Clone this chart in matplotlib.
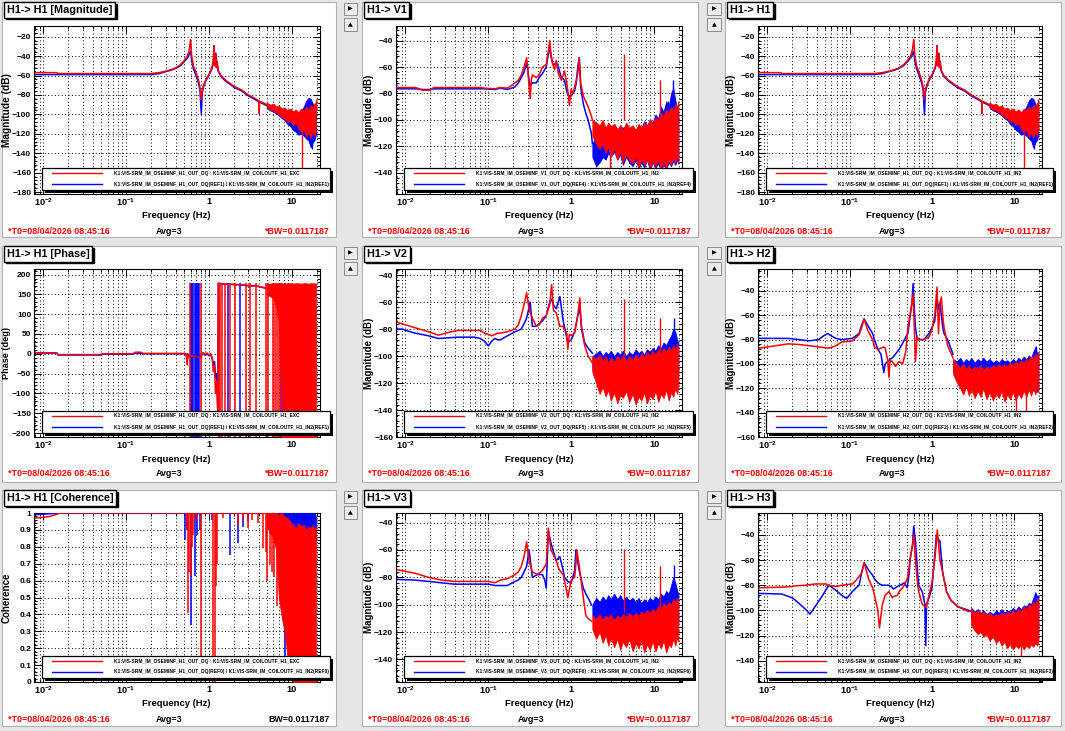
import numpy as np
import matplotlib.pyplot as plt
from matplotlib.patches import Rectangle
from matplotlib.ticker import (FixedLocator, LogLocator, MultipleLocator,
                               NullFormatter, FuncFormatter)

plt.rcParams['font.family'] = ['Liberation Sans', 'DejaVu Sans']
plt.rcParams['font.weight'] = 'bold'
plt.rcParams['mathtext.fontset'] = 'custom'
plt.rcParams['mathtext.rm'] = 'Liberation Sans:bold'
plt.rcParams['mathtext.bf'] = 'Liberation Sans:bold'
plt.rcParams['mathtext.it'] = 'Liberation Sans:bold'

nan = np.nan

# ---------------------------------------------------------------- data
XTICKS = [0.01, 0.1, 1, 10]
XTICK_LABELS = [r'$10^{-2}$', r'$10^{-1}$', '1', '10']

# frequency grid (Hz) of the dense, noisy high-frequency part
NOISE_F = [1.8, 2.0, 2.2, 2.4, 2.6, 2.8, 3.0, 3.3, 3.6, 3.9, 4.2, 4.6, 5.0, 5.5, 6.0, 6.5,
           7.0, 7.6, 8.2, 8.9, 9.6, 10.4, 11.2, 12.1, 13.0, 14.0, 15.0, 16.0, 17.0, 18.0, 19.0, 19.6]

# H1 -> H1 magnitude (dB)
H1_F = [0.008, 0.0145, 0.015, 0.05, 0.1, 0.2, 0.25, 0.3, 0.35, 0.4, 0.45, 0.5, 0.55, 0.58, 0.6, 0.62,
        0.65, 0.7, 0.75, 0.78, 0.81, 0.83, 0.86, 0.9, 0.95, 1.0, 1.05, 1.1, 1.13, 1.15, 1.17, 1.19,
        1.21, 1.23, 1.26, 1.3, 1.4, 1.6, 1.8, 2.0, 2.5, 3.0, 3.5, 4.0, 4.05, 4.1, 4.5, 5.0]
H1_RED = [-57, -57, -58, -58, -58, -58, -57, -55.5, -54, -52, -49, -45, -40, -33, -23, -40,
          -50, -57, -65, -72, -85, -75, -70, -66, -62, -59, -55, -50, -42, -29, -50, -40,
          -38, -52, -45, -55, -60, -65, -68, -71, -75, -80, -83, -86, -99, -86.5, -88, -90]
H1_BLUE = [-59, -59, -59, -59, -59, -59, -58, -56, -54.5, -52.5, -50, -46, -42, -38, -35, -45,
           -53, -60, -68, -75, -100, -78, -72, -67, -63, -60, -56, -52, -47, -42, -45, -38,
           -37, -45, -50, -56, -61, -66, -69, -72, -76, -81, -84, -87, -87.5, -87.5, -89, -91]
H1_RED_HI = [nan] * 12 + [-88, -90, -89, -92, -91, -94, -93, -96, -94, -97, -95, -98, -94, -96,
                          -92, -95, -90, -93, -88, -91]
H1_RED_LO = [nan] * 12 + [-92, -95, -96, -98, -100, -103, -104, -108, -106, -111, -109, -115,
                          -118, -116, -123, -119, -124, -118, -122, -114]
H1_BLUE_HI = [nan] * 12 + [-89, -91, -90, -93, -92, -95, -94, -97, -95, -98, -96, -99, -97, -92,
                           -86, -83, -84, -89, -94, -97]
H1_BLUE_LO = [nan] * 12 + [-93, -96, -97, -99, -101, -104, -106, -110, -112, -116, -118, -121,
                           -120, -122, -125, -127, -134, -129, -126, -121]
H1_RED_SPK = ([13.2, 19.5], [-110, -84], [-156, -95])
H1_BLUE_SPK = ([17.4], [-125], [-136])

# H1 -> H1 phase (deg)
PH_F = [0.008, 0.0145, 0.015, 0.05, 0.052, 0.12, 0.13, 0.15, 0.16, 0.5, 0.53, 0.545, 0.555, 0.57,
        0.59, 0.8, 0.85, 0.9, 0.95, 1.0, 1.05, 1.1, 1.13, 1.17, 1.2, 1.24, 1.28, 1.3, 1.5, 2.0,
        2.5, 3.0, 4.0, 5.0, 6.0, 7.2]
PH_RED = [2, 2, -2, -2, 0, 0, 4, 4, 1, 1, 0, -28, -3, -10, -5, -8, 3, -2, 2, -3, 0, -15, -45,
          -30, -100, -70, -150, 178, 176, 175, 174, 172, 170, 165, 160, 170]
PH_BLUE = [2, 2, -3, -3, -1, -1, 2, 1, 0, 0, 0, -15, 0, -5, -3, -5, 2, -4, 0, -5, -3, -10, -30,
           -20, -60, -50, -140, 178, 176, 175, 174, 172, 170, 165, 160, 170]
PH_RED_JUMPS = [0.59, 0.8, 1.33, 1.38, 1.45, 1.55, 1.8, 2.05, 2.8, 3.1, 3.75, 4.95, 5.2, 5.9,
                6.3, 6.7, 7.0]
PH_BLUE_JUMPS = [0.6, 0.615, 0.63, 0.65, 0.67, 0.69, 0.71, 0.73, 0.76, 1.7, 2.35, 7.5, 8.2]
PH_RED_HI = [nan] * 12 + [176, 177, 178, 176, 178, 178, 177, 178, 178, 177, 178, 178, 177, 178,
                          178, 177, 178, 178, 177, 178]
PH_RED_LO = [nan] * 12 + [150, 145, 140, 120, 80, -215, -215, -215, -215, -215, -215, -215, -215,
                          -215, -215, -215, -215, -215, -215, -215]

# H1 -> H1 coherence
COH_RED_F = [0.008, 0.01, 0.012, 0.014, 0.016, 5.0]
COH_RED = [0.97, 0.975, 0.98, 0.99, 1.0, 1.0]
COH_BLUE_F = [0.008, 0.016, 7.6]
COH_BLUE = [0.99, 1.0, 1.0]
COH_RED_DIP_F = [0.55, 0.56, 0.58, 0.6, 0.62, 0.64, 0.7, 0.8, 1.12, 1.17, 1.22, 1.25, 1.5, 2.25,
                 2.6, 2.98, 3.3, 3.9, 4.5, 4.9, 5.1, 5.4, 5.8, 6.2, 6.7]
COH_RED_DIP = [0.9, 0.41, 0.65, 0.63, 0.8, 0.87, 0.95, 0.0, 0.0, 0.0, 0.57, 0.7, 0.97, 0.93,
               0.96, 0.91, 0.96, 0.94, 0.79, 0.77, 0.6, 0.7, 0.65, 0.62, 0.45]
COH_BLUE_DIP_F = [0.52, 0.55, 0.6, 0.67, 0.72, 0.77, 1.1, 1.79, 2.25, 2.6, 3.0, 8.3, 9.0]
COH_BLUE_DIP = [0.84, 0.9, 0.34, 0.63, 0.87, 0.9, 0.96, 0.75, 0.82, 0.92, 0.95, 0.05, 0.3]
COH_RED_HI = [nan] * 12 + [1.0, 1.0, 1.0, 1.0, 0.99, 1.0, 0.98, 0.97, 0.95, 0.93, 0.91, 0.94,
                           0.92, 0.93, 0.9, 0.92, 0.91, 0.93, 0.9, 0.92]
COH_RED_LO = [nan] * 12 + [0.92, 0.88, 0.85, 0.78, 0.5, 0.38, 0.3, 0.15, 0.08, 0.0, 0.0, 0.0,
                           0.0, 0.0, 0.0, 0.0, 0.0, 0.0, 0.0, 0.0]
COH_BLUE_HI = [nan] * 17 + [1.0, 1.0, 1.0, 1.0, 1.0, 1.0, 1.0, 1.0, 1.0, 1.0, 1.0, 1.0, 1.0,
                            1.0, 0.98]
COH_BLUE_LO = [nan] * 17 + [0.9, 0.88, 0.9, 0.87, 0.9, 0.86, 0.9, 0.87, 0.9, 0.86, 0.88, 0.85,
                            0.88, 0.86, 0.84]

# H1 -> V1
V1_F = [0.008, 0.013, 0.014, 0.016, 0.02, 0.022, 0.08, 0.09, 0.12, 0.14, 0.17, 0.19, 0.21, 0.23,
        0.25, 0.27, 0.29, 0.3, 0.31, 0.32, 0.33, 0.34, 0.38, 0.41, 0.45, 0.5, 0.53, 0.55, 0.57,
        0.6, 0.63, 0.66, 0.7, 0.76, 0.83, 0.88, 0.91, 0.95, 1.0, 1.05, 1.1, 1.15, 1.2, 1.25, 1.3,
        1.4, 1.5, 1.6, 1.75, 1.8]
V1_RED = [-75.5, -75.5, -76, -77.5, -77.5, -75.5, -75.5, -76, -76.5, -75.5, -76, -74, -72, -70,
          -66, -60, -53, -62, -75, -84, -70, -66, -68, -66, -60, -58, -48, -40, -50, -58, -62,
          -55, -65, -70, -63, -72, -78, -89, -77, -80, -75, -70, -65, -53, -72, -82, -86, -90,
          -97, -100]
V1_BLUE = [-76.5, -76.5, -76.5, -77, -77, -76.5, -76.5, -76.5, -77, -76, -77, -76, -75, -72,
           -68, -64, -57, -62, -70, -74, -73, -72, -72, -68, -65, -60, -50, -45, -52, -58, -58,
           -56, -60, -68, -70, -78, -80, -82, -82, -80, -78, -72, -60, -53, -75, -88, -95, -100,
           -110, -118]
V1_RED_HI = [-100, -102, -104, -100, -106, -102, -105, -103, -107, -104, -108, -102, -106, -104,
             -108, -103, -106, -102, -105, -100, -103, -98, -100, -95, -97, -92, -95, -90, -93,
             -88, -90, -86]
V1_RED_LO = [-112, -118, -122, -118, -125, -120, -128, -122, -130, -124, -132, -126, -130, -133,
             -128, -136, -130, -134, -129, -137, -131, -135, -130, -138, -132, -136, -130, -134,
             -128, -133, -127, -132]
V1_BLUE_HI = [-118, -112, -106, -103, -108, -104, -106, -103, -108, -105, -106, -104, -107, -105,
              -108, -104, -106, -101, -104, -100, -102, -96, -99, -90, -94, -86, -90, -80, -76,
              -85, -92, -94]
V1_BLUE_LO = [-128, -135, -132, -128, -130, -125, -128, -124, -130, -126, -134, -128, -132, -135,
              -130, -137, -132, -136, -130, -138, -132, -136, -133, -138, -134, -137, -132, -135,
              -131, -134, -130, -133]
V1_RED_SPK = ([4.3, 11.7, 2.9], [-100, -100, -125], [-50, -70, -136])
V1_BLUE_SPK = ([14.8, 16.8], [-95, -88], [-86, -70])

# H1 -> V2
V2_F = [0.008, 0.009, 0.013, 0.019, 0.025, 0.033, 0.043, 0.068, 0.08, 0.09, 0.1, 0.11, 0.12, 0.13,
        0.14, 0.17, 0.21, 0.23, 0.25, 0.27, 0.29, 0.31, 0.32, 0.34, 0.38, 0.41, 0.45, 0.5, 0.55,
        0.58, 0.61, 0.66, 0.73, 0.8, 0.88, 0.91, 0.95, 1.0, 1.1, 1.2, 1.27, 1.33, 1.45, 1.6, 1.8]
V2_RED = [-75, -76, -79, -82, -84.5, -82.5, -81, -81, -81, -83, -84, -85, -84, -83, -83, -82,
          -80, -77, -70, -62, -53, -65, -68, -72, -78, -77, -72, -70, -62, -47, -66, -68, -78,
          -78, -83, -95, -84, -85, -83, -70, -57, -80, -92, -100, -105]
V2_BLUE = [-80, -80, -83, -85, -87, -86.5, -86, -86, -87, -89, -92.5, -89, -87, -88, -88, -85,
           -82, -81, -80, -76, -72, -64, -60, -78, -78, -76, -74, -70, -60, -58, -62, -65, -56,
           -74, -86, -90, -89, -88, -82, -70, -65, -78, -90, -94, -98]
V2_RED_HI = [-100, -102, -99, -104, -100, -105, -101, -104, -100, -103, -99, -104, -100, -103,
             -99, -102, -98, -101, -97, -100, -96, -99, -95, -98, -94, -97, -93, -96, -92, -95,
             -91, -93]
V2_RED_LO = [-112, -120, -128, -123, -130, -125, -133, -127, -135, -129, -131, -126, -134, -128,
             -136, -130, -133, -127, -135, -129, -132, -126, -134, -128, -131, -125, -133, -127,
             -130, -124, -128, -122]
V2_BLUE_HI = [-100, -98, -96, -100, -97, -99, -96, -100, -97, -99, -96, -100, -97, -99, -95, -98,
              -96, -99, -95, -97, -94, -96, -92, -94, -90, -92, -88, -85, -80, -82, -88, -90]
V2_BLUE_LO = [-110, -115, -118, -113, -117, -112, -118, -114, -119, -115, -120, -116, -118, -114,
              -119, -115, -120, -116, -118, -114, -119, -115, -117, -113, -118, -114, -116, -120,
              -125, -118, -115, -113]
V2_RED_SPK = ([4.3, 11.7], [-100, -98], [-58, -72])
V2_BLUE_SPK = ([17.6], [-85], [-72])

# H1 -> V3
V3_F = [0.008, 0.013, 0.019, 0.027, 0.039, 0.057, 0.1, 0.11, 0.12, 0.14, 0.17, 0.21, 0.23, 0.25,
        0.27, 0.29, 0.31, 0.34, 0.39, 0.45, 0.48, 0.5, 0.53, 0.57, 0.63, 0.66, 0.7, 0.73, 0.8,
        0.83, 0.91, 1.0, 1.1, 1.14, 1.17, 1.25, 1.4, 1.5, 1.6, 1.75]
V3_RED = [-74.5, -77, -80, -82, -83, -83, -83, -83.5, -84, -82, -81, -78, -76, -72, -65, -54,
          -68, -76, -78, -75, -72, -70, -44, -60, -65, -68, -73, -75, -78, -82, -95, -82, -80,
          -70, -60, -72, -95, -108, -110, -112]
V3_BLUE = [-81.5, -82, -83, -84, -85, -85, -85, -85.5, -86, -86, -86, -83, -82, -80, -76, -72,
           -60, -80, -78, -78, -82, -88, -46, -55, -64, -68, -66, -65, -75, -80, -83, -84, -75,
           -60, -65, -75, -88, -92, -95, -100]
V3_RED_HI = [-108, -110, -107, -111, -108, -110, -107, -111, -108, -110, -107, -109, -106, -109,
             -106, -108, -105, -107, -104, -106, -103, -105, -101, -103, -99, -101, -98, -100,
             -96, -98, -95, -96]
V3_RED_LO = [-118, -125, -120, -128, -122, -130, -124, -131, -125, -133, -127, -131, -125, -134,
             -128, -132, -126, -135, -129, -133, -127, -134, -128, -132, -126, -135, -129, -131,
             -125, -130, -124, -127]
V3_BLUE_HI = [-100, -95, -98, -94, -97, -93, -96, -92, -96, -93, -97, -94, -97, -95, -98, -95,
              -99, -96, -98, -95, -97, -94, -96, -92, -94, -90, -92, -86, -80, -84, -90, -92]
V3_BLUE_LO = [-108, -112, -110, -114, -111, -115, -112, -114, -110, -113, -112, -115, -111, -114,
              -112, -116, -113, -115, -112, -114, -116, -113, -117, -114, -118, -115, -120, -118,
              -122, -118, -116, -112]
V3_RED_SPK = ([4.3, 11.7], [-105, -103], [-59, -72])
V3_BLUE_SPK = ([17.6], [-86], [-71])

# H1 -> H2
H2_F = [0.008, 0.0126, 0.018, 0.024, 0.032, 0.042, 0.048, 0.054, 0.06, 0.068, 0.08, 0.108, 0.13,
        0.14, 0.15, 0.165, 0.19, 0.2, 0.22, 0.24, 0.26, 0.27, 0.29, 0.3, 0.31, 0.33, 0.36, 0.4,
        0.44, 0.48, 0.51, 0.54, 0.57, 0.59, 0.61, 0.63, 0.66, 0.7, 0.8, 0.92, 1.0, 1.08, 1.15,
        1.2, 1.25, 1.3, 1.35, 1.4, 1.55, 1.8]
H2_RED = [-87, -85, -83.5, -84, -85, -86, -86.5, -87, -86.5, -85, -82, -81, -76, -70, -63, -72,
          -80, -86, -88, -87, -86, -87, -97, -111, -97, -98, -102, -98, -100, -90, -70, -60, -50,
          -43, -70, -98, -78, -80, -80, -78, -72, -60, -37, -75, -50, -45, -60, -70, -85, -95]
H2_BLUE = [-79, -79, -79, -80, -81, -80, -77, -75, -77, -79, -80, -79, -75, -68, -63, -68, -75,
           -80, -88, -92, -107, -100, -98, -97, -96, -95, -92, -88, -83, -78, -75, -62, -50, -34,
           -55, -70, -80, -80, -80, -75, -70, -65, -45, -55, -50, -60, -70, -75, -80, -92]
H2_RED_HI = [-96, -100, -103, -100, -104, -101, -105, -102, -104, -101, -105, -102, -104, -101,
             -103, -100, -103, -100, -102, -99, -101, -98, -100, -97, -99, -96, -97, -94, -95,
             -92, -93, -90]
H2_RED_LO = [-108, -115, -120, -125, -118, -126, -121, -128, -122, -127, -120, -129, -123, -130,
             -124, -128, -122, -131, -125, -129, -123, -130, -124, -128, -122, -127, -121, -126,
             -120, -125, -119, -123]
H2_BLUE_HI = [-96, -98, -95, -99, -96, -98, -95, -99, -96, -98, -95, -98, -96, -99, -97, -99, -96,
              -98, -97, -99, -96, -98, -95, -97, -94, -96, -93, -95, -90, -86, -92, -90]
H2_BLUE_LO = [-105, -110, -113, -110, -114, -111, -115, -112, -116, -113, -117, -114, -116, -113,
              -117, -114, -118, -115, -117, -114, -118, -115, -119, -116, -120, -117, -121, -118,
              -122, -119, -123, -120]
H2_RED_SPK = ([10.5, 14.0], [-125, -120], [-140, -142])
H2_BLUE_SPK = ([18.3], [-92], [-85])

# H1 -> H3
H3_F = [0.008, 0.015, 0.02, 0.022, 0.029, 0.032, 0.033, 0.038, 0.047, 0.051, 0.056, 0.068, 0.08,
        0.092, 0.108, 0.12, 0.13, 0.14, 0.15, 0.17, 0.19, 0.2, 0.22, 0.23, 0.25, 0.27, 0.3, 0.33,
        0.34, 0.38, 0.4, 0.44, 0.46, 0.5, 0.53, 0.54, 0.58, 0.6, 0.63, 0.67, 0.69, 0.76, 0.82,
        0.84, 0.86, 0.92, 1.0, 1.1, 1.13, 1.16, 1.25, 1.35, 1.5, 1.7, 2.05, 2.8, 3.0]
H3_RED = [-82, -81.5, -81, -80.5, -80, -79.5, -79.5, -79, -79, -79, -80, -81, -80, -79.5, -79,
          -76, -73, -70, -62, -75, -82, -88, -100, -114, -95, -88, -85, -90, -89, -88, -85, -82,
          -80, -75, -65, -60, -48, -40, -60, -80, -85, -95, -97, -98, -96, -88, -78, -55, -45,
          -36, -60, -70, -85, -92, -97, -101, -100]
H3_BLUE = [-86.5, -87, -90, -92, -99, -102, -103, -97, -88, -84, -80, -84, -88, -90.5, -85, -82,
           -80, -70, -62, -68, -72, -75, -78, -79, -80, -80, -80, -82, -83, -81, -80, -79, -78,
           -82, -70, -60, -48, -33, -45, -70, -80, -85, -95, -128, -95, -90, -82, -50, -40, -42,
           -45, -70, -85, -92, -97, -100, -101]
H3_RED_HI = [nan] * 6 + [-99, -102, -100, -103, -101, -104, -102, -105, -103, -104, -102, -104,
                         -101, -103, -100, -102, -99, -101, -97, -99, -95, -97, -93, -95, -91, -90]
H3_RED_LO = [nan] * 6 + [-112, -116, -119, -117, -121, -119, -124, -121, -126, -123, -128, -125,
                         -130, -127, -131, -128, -130, -127, -131, -128, -130, -127, -129, -126,
                         -128, -125]
H3_BLUE_HI = [nan] * 6 + [-98, -101, -99, -102, -100, -103, -101, -103, -100, -102, -99, -102,
                          -100, -101, -98, -100, -97, -99, -96, -97, -94, -95, -90, -86, -89, -88]
H3_BLUE_LO = [nan] * 6 + [-108, -112, -110, -113, -111, -114, -112, -115, -113, -116, -114, -117,
                          -115, -118, -116, -119, -117, -120, -118, -121, -119, -122, -120, -121,
                          -119, -117]
H3_RED_SPK = ([12.0], [-125], [-138])
H3_BLUE_SPK = ([3.6, 18.0], [-100, -95], [-112, -85])

T0_TEXT = '*T0=08/04/2026 08:45:16'
AVG_TEXT = 'Avg=3'
BW_TEXT = 'BW=0.0117187'

# ---------------------------------------------------------------- layout
W, H = 1065, 731
BG = '#e6e6e6'
RED, BLUE = '#ff0000', '#0000ff'
PANEL_X = [(2, 336), (362, 698), (725, 1061)]
PANEL_Y = [(2, 237), (246, 482), (490, 726)]
AXES_X = [(34, 319.5), (396, 682), (758, 1042)]
AXES_Y = [(26, 194), (269, 437), (513, 682)]
XLIM = (0.0077, 21.7)
DOT = (0, (1, 2.5))

fig = plt.figure(figsize=(W / 100, H / 100), dpi=100, facecolor=BG)


def fx(px):
    return px / W


def fy(py):
    return 1 - py / H


def fmt_num(v, pos):
    return f'{v:g}'.replace('-', '\u2212')


def make_panel(col, row, title, ylabel, ylim, ystep, ylabel_size):
    px0, px1 = PANEL_X[col]
    py0, py1 = PANEL_Y[row]
    ax0, ax1 = AXES_X[col]
    ay0, ay1 = AXES_Y[row]
    fig.patches.append(Rectangle((fx(px0), fy(py1)), fx(px1 - px0), (py1 - py0) / H,
                                 transform=fig.transFigure, fc='white', ec='#b0b0b0',
                                 lw=0.8, zorder=-5))
    ax = fig.add_axes([fx(ax0), fy(ay1), fx(ax1 - ax0), (ay1 - ay0) / H])
    ax.set_facecolor('white')
    ax.set_xscale('log')
    ax.set_xlim(*XLIM)
    ax.set_ylim(*ylim)
    ax.xaxis.set_major_locator(FixedLocator(XTICKS))
    ax.set_xticklabels(XTICK_LABELS)
    ax.xaxis.set_minor_locator(LogLocator(base=10, subs=np.arange(2, 10)))
    ax.xaxis.set_minor_formatter(NullFormatter())
    ax.yaxis.set_major_locator(MultipleLocator(ystep))
    ax.yaxis.set_minor_locator(MultipleLocator(ystep / 5))
    ax.yaxis.set_major_formatter(FuncFormatter(fmt_num))
    ax.tick_params(which='both', direction='in', top=True, right=True, width=0.7, pad=2)
    ax.tick_params(axis='y', labelsize=6.0)
    ax.tick_params(axis='x', labelsize=6.6)
    ax.tick_params(which='major', length=5)
    ax.tick_params(which='minor', length=2.5)
    ax.grid(True, which='major', ls=DOT, color='black', lw=0.7)
    ax.grid(True, which='minor', axis='x', ls=DOT, color='black', lw=0.7)
    for sp in ax.spines.values():
        sp.set_linewidth(0.8)

    # title label with shadow
    kw = dict(fontsize=7.8, va='center', ha='left', color='black')
    fig.text(fx(px0 + 6.5), fy(py0 + 9.5), title, zorder=3,
             bbox=dict(boxstyle='square,pad=0.25', fc='black', ec='black', lw=1), **kw)
    fig.text(fx(px0 + 5), fy(py0 + 8), title, zorder=4,
             bbox=dict(boxstyle='square,pad=0.25', fc='white', ec='black', lw=1), **kw)

    fig.text(fx(ax0 - 27), fy((ay0 + ay1) / 2), ylabel, rotation=90, ha='center',
             va='center', fontsize=ylabel_size)
    fig.text(fx((ax0 + ax1) / 2), fy(ay1 + 22), 'Frequency (Hz)', ha='center', va='center',
             fontsize=6.8)
    return ax


def footer(col, row, bw_red=True):
    px0 = PANEL_X[col][0]
    ax0, ax1 = AXES_X[col]
    y = fy(AXES_Y[row][1] + 37)
    fig.text(fx(px0 + 6), y, T0_TEXT, color=RED, fontsize=6.4, va='center', ha='left')
    fig.text(fx((ax0 + ax1) / 2 - 8), y, AVG_TEXT, color='black', fontsize=6.4, va='center',
             ha='center')
    if bw_red:
        fig.text(fx(ax1 + 10), y, '*' + BW_TEXT, color=RED, fontsize=6.4, va='center',
                 ha='right')
    else:
        fig.text(fx(ax1 + 10), y, BW_TEXT, color='black', fontsize=6.4, va='center',
                 ha='right')


def legend(ax, col, row, red_label, blue_label):
    aw = AXES_X[col][1] - AXES_X[col][0]
    ah = AXES_Y[row][1] - AXES_Y[row][0]
    l, r = 7.5 / aw, 1 + 10.5 / aw
    b, t = 4 / ah, 26 / ah
    ax.add_patch(Rectangle((l + 3 / aw, b - 3 / ah), r - l, t - b, transform=ax.transAxes,
                           fc='black', ec='black', lw=0, clip_on=False, zorder=20))
    frame = Rectangle((l, b), r - l, t - b, transform=ax.transAxes, fc='white', ec='black',
                      lw=0.9, clip_on=False, zorder=21)
    ax.add_patch(frame)
    for color, label, yy in ((RED, red_label, 21), (BLUE, blue_label, 10)):
        ax.plot([l + 10 / aw, l + 60 / aw], [yy / ah, yy / ah], transform=ax.transAxes,
                color=color, lw=1.0, clip_on=False, zorder=22)
        txt = ax.text(l + 72 / aw, yy / ah, label, transform=ax.transAxes, fontsize=3.5,
                      va='center', ha='left', zorder=22)
        txt.set_clip_on(True)
        txt.set_clip_path(frame)


def buttons(col, row):
    if col == 0:
        return
    bx0, bx1 = (344, 357) if col == 1 else (707, 721)
    py0 = PANEL_Y[row][0]
    for (y0, y1), sym in (((py0 + 1, py0 + 13), '\u25b6'), ((py0 + 16, py0 + 29), '\u25b2')):
        fig.patches.append(Rectangle((fx(bx0), fy(y1)), fx(bx1 - bx0), (y1 - y0) / H,
                                     transform=fig.transFigure, fc='#ececec', ec='#8c8c8c',
                                     lw=0.7, zorder=-4))
        fig.text(fx((bx0 + bx1) / 2), fy((y0 + y1) / 2), sym, ha='center', va='center',
                 fontsize=4.5, family='DejaVu Sans', color='black')


def draw_mag(ax, f, red, blue, red_hi, red_lo, blue_hi, blue_lo, red_spk, blue_spk):
    ax.fill_between(NOISE_F, blue_lo, blue_hi, color=BLUE, lw=0.6, zorder=3)
    ax.plot(f, blue, color=BLUE, lw=1.1, zorder=3)
    ax.vlines(blue_spk[0], blue_spk[1], blue_spk[2], color=BLUE, lw=1.0, zorder=3)
    ax.fill_between(NOISE_F, red_lo, red_hi, color=RED, lw=0.6, zorder=4)
    ax.plot(f, red, color=RED, lw=1.1, zorder=4)
    ax.vlines(red_spk[0], red_spk[1], red_spk[2], color=RED, lw=1.0, zorder=4)


def labels(chan, blue_ref, blue_sep=' / ', exc='IN2'):
    red = f'K1:VIS-SRM_IM_OSEMINF_{chan}_OUT_DQ : K1:VIS-SRM_IM_COILOUTF_H1_{exc}'
    blue = (f'K1:VIS-SRM_IM_OSEMINF_{chan}_OUT_DQ({blue_ref}){blue_sep}'
            f'K1:VIS-SRM_IM_COILOUTF_H1_IN2({blue_ref})')
    return red, blue


# ---------------------------------------------------------------- left column
ax = make_panel(0, 0, 'H1-> H1 [Magnitude]', 'Magnitude (dB)', (-182, -9), 20, 7.3)
draw_mag(ax, H1_F, H1_RED, H1_BLUE, H1_RED_HI, H1_RED_LO, H1_BLUE_HI, H1_BLUE_LO,
         H1_RED_SPK, H1_BLUE_SPK)
legend(ax, 0, 0, *labels('H1', 'REF1', exc='EXC'))
footer(0, 0)

ax = make_panel(0, 1, 'H1-> H1 [Phase]', 'Phase (deg)', (-210, 214), 50, 6.6)
ax.plot(PH_F, PH_BLUE, color=BLUE, lw=1.1, zorder=3)
ax.vlines(PH_BLUE_JUMPS, -215, 178, color=BLUE, lw=1.1, zorder=3)
ax.fill_between(NOISE_F, PH_RED_LO, PH_RED_HI, color=RED, lw=0.6, zorder=4)
ax.plot(PH_F, PH_RED, color=RED, lw=1.1, zorder=4)
ax.vlines(PH_RED_JUMPS, -215, 178, color=RED, lw=1.1, zorder=4)
legend(ax, 0, 1, *labels('H1', 'REF1', exc='EXC'))
footer(0, 1)

ax = make_panel(0, 2, 'H1-> H1 [Coherence]', 'Coherence', (0, 1), 0.1, 7)
ax.fill_between(NOISE_F, COH_BLUE_LO, COH_BLUE_HI, color=BLUE, lw=0.6, zorder=3)
ax.plot(COH_BLUE_F, COH_BLUE, color=BLUE, lw=1.1, zorder=3)
ax.vlines(COH_BLUE_DIP_F, COH_BLUE_DIP, 1.0, color=BLUE, lw=1.1, zorder=3)
ax.fill_between(NOISE_F, COH_RED_LO, COH_RED_HI, color=RED, lw=0.6, zorder=4)
ax.plot(COH_RED_F, COH_RED, color=RED, lw=1.1, zorder=4)
ax.vlines(COH_RED_DIP_F, COH_RED_DIP, 1.0, color=RED, lw=1.1, zorder=4)
legend(ax, 0, 2, *labels('H1', 'REF0', exc='EXC'))
footer(0, 2, bw_red=False)

# ---------------------------------------------------------------- middle column
ax = make_panel(1, 0, 'H1-> V1', 'Magnitude (dB)', (-156, -29), 20, 7.0)
draw_mag(ax, V1_F, V1_RED, V1_BLUE, V1_RED_HI, V1_RED_LO, V1_BLUE_HI, V1_BLUE_LO,
         V1_RED_SPK, V1_BLUE_SPK)
legend(ax, 1, 0, *labels('V1', 'REF4', blue_sep=' : '))
footer(1, 0)

ax = make_panel(1, 1, 'H1-> V2', 'Magnitude (dB)', (-160, -35.5), 20, 7.0)
draw_mag(ax, V2_F, V2_RED, V2_BLUE, V2_RED_HI, V2_RED_LO, V2_BLUE_HI, V2_BLUE_LO,
         V2_RED_SPK, V2_BLUE_SPK)
legend(ax, 1, 1, *labels('V2', 'REF5', blue_sep=' : '))
footer(1, 1)

ax = make_panel(1, 2, 'H1-> V3', 'Magnitude (dB)', (-156.5, -33), 20, 7.0)
draw_mag(ax, V3_F, V3_RED, V3_BLUE, V3_RED_HI, V3_RED_LO, V3_BLUE_HI, V3_BLUE_LO,
         V3_RED_SPK, V3_BLUE_SPK)
legend(ax, 1, 2, *labels('V3', 'REF6', blue_sep=' : '))
footer(1, 2)

# ---------------------------------------------------------------- right column
ax = make_panel(2, 0, 'H1-> H1', 'Magnitude (dB)', (-182, -9), 20, 7.0)
draw_mag(ax, H1_F, H1_RED, H1_BLUE, H1_RED_HI, H1_RED_LO, H1_BLUE_HI, H1_BLUE_LO,
         H1_RED_SPK, H1_BLUE_SPK)
legend(ax, 2, 0, *labels('H1', 'REF1'))
footer(2, 0)

ax = make_panel(2, 1, 'H1-> H2', 'Magnitude (dB)', (-160, -22), 20, 7.0)
draw_mag(ax, H2_F, H2_RED, H2_BLUE, H2_RED_HI, H2_RED_LO, H2_BLUE_HI, H2_BLUE_LO,
         H2_RED_SPK, H2_BLUE_SPK)
legend(ax, 2, 1, *labels('H2', 'REF2'))
footer(2, 1)

ax = make_panel(2, 2, 'H1-> H3', 'Magnitude (dB)', (-157, -22.5), 20, 7.0)
draw_mag(ax, H3_F, H3_RED, H3_BLUE, H3_RED_HI, H3_RED_LO, H3_BLUE_HI, H3_BLUE_LO,
         H3_RED_SPK, H3_BLUE_SPK)
legend(ax, 2, 2, *labels('H3', 'REF3'))
footer(2, 2)

for c in range(3):
    for r in range(3):
        buttons(c, r)

fig.savefig('out.png', dpi=100, facecolor=BG)
